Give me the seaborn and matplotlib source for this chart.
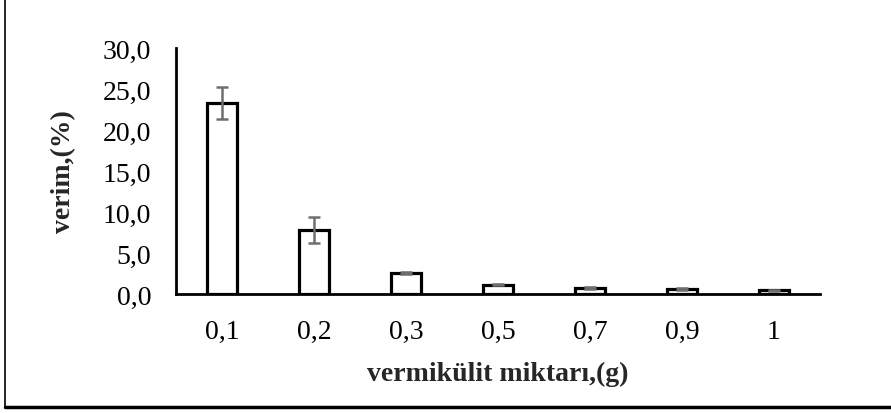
import matplotlib
matplotlib.use("Agg")
import matplotlib.pyplot as plt
import seaborn as sns
import pandas as pd
from matplotlib.lines import Line2D

categories = ["0,1", "0,2", "0,3", "0,5", "0,7", "0,9", "1"]
values = [23.3, 7.8, 2.55, 1.15, 0.72, 0.62, 0.45]
errors = [1.95, 1.6, 0.1, 0.08, 0.08, 0.08, 0.08]
yticks = [0, 5, 10, 15, 20, 25, 30]
ytick_labels = ["0,0", "5,0", "10,0", "15,0", "20,0", "25,0", "30,0"]

sns.set_theme(style="white")
plt.rcParams["font.family"] = ["Liberation Serif", "DejaVu Serif"]

fig = plt.figure(figsize=(8.91, 4.14), dpi=100)
ax = fig.add_axes([176/891, 1-295/414, (820-176)/891, (295-49)/414])

df = pd.DataFrame({"x": categories, "y": values})
sns.barplot(data=df, x="x", y="y", ax=ax, color="white", edgecolor="black",
            linewidth=2.3, width=0.33, errorbar=None)
ax.errorbar(range(len(categories)), values, yerr=errors, fmt="none",
            ecolor="#6e6e6e", elinewidth=1.8, capsize=4.5, capthick=1.8)

ax.set_xlim(-0.5, 6.5)
ax.set_ylim(0, 30)
ax.set_yticks(yticks)
ax.set_yticklabels(ytick_labels)
ax.set_xticks(range(len(categories)))
ax.set_xticklabels(categories)
ax.set_xticks([6.5], minor=True)

for s in ["top", "right"]:
    ax.spines[s].set_visible(False)
for s in ["left", "bottom"]:
    ax.spines[s].set_linewidth(2)
    ax.spines[s].set_color("black")

ax.tick_params(axis="both", which="both", direction="out", color="black",
               width=2, labelsize=20, labelcolor="black")
ax.tick_params(axis="y", length=6, pad=12)
ax.tick_params(axis="x", which="both", length=6, pad=12)

ax.set_xlabel("vermikülit miktarı,(g)", fontsize=20, fontweight="bold", labelpad=12)
ax.set_ylabel("verim,(%)", fontsize=20, fontweight="bold", labelpad=19)

fig.add_artist(Line2D([5/891, 5/891], [6/414, 1], transform=fig.transFigure,
                      color="black", linewidth=1.2))
fig.add_artist(Line2D([5/891, 1], [6/414, 6/414], transform=fig.transFigure,
                      color="black", linewidth=2.5))

fig.savefig("out.png", dpi=100)
